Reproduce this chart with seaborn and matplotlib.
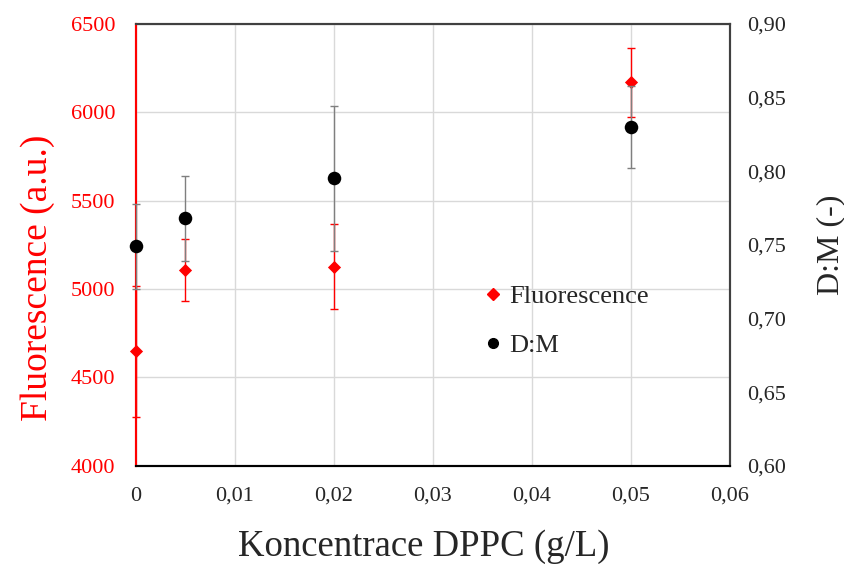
import numpy as np
import pandas as pd
import matplotlib
matplotlib.use("Agg")
import matplotlib.pyplot as plt
import seaborn as sns
from matplotlib.ticker import FuncFormatter, MultipleLocator

# data
koncentrace = [0, 0.005, 0.02, 0.05]
fluorescence = [4647, 5105, 5127, 6170]
fluorescence_err = [372, 175, 242, 195]
dm = [0.749, 0.768, 0.795, 0.830]
dm_err = [0.029, 0.029, 0.049, 0.028]

x_ticks = [0, 0.01, 0.02, 0.03, 0.04, 0.05, 0.06]

sns.set_style("white")
plt.rcParams['font.family'] = ['Liberation Serif', 'DejaVu Serif']

df = pd.DataFrame({"c": koncentrace, "fl": fluorescence, "fl_err": fluorescence_err,
                   "dm": dm, "dm_err": dm_err})

fig = plt.figure(figsize=(8.44, 5.64), dpi=100)
ax = fig.add_axes([0.161, 0.174, 0.704, 0.784])
ax2 = ax.twinx()

# left axis - fluorescence
ax.errorbar(df["c"], df["fl"], yerr=df["fl_err"], fmt="none", ecolor="red",
            elinewidth=1, capsize=3, capthick=1, zorder=3, clip_on=False)
sns.scatterplot(data=df, x="c", y="fl", ax=ax, marker="D", s=45, color="red",
                edgecolor="red", linewidth=0, zorder=4, clip_on=False)

# right axis - D:M
ax2.errorbar(df["c"], df["dm"], yerr=df["dm_err"], fmt="none", ecolor="#7f7f7f",
             elinewidth=1, capsize=3, capthick=1, zorder=3, clip_on=False)
sns.scatterplot(data=df, x="c", y="dm", ax=ax2, marker="o", s=95, color="black",
                edgecolor="black", linewidth=0, zorder=4, clip_on=False)

ax.set_xlim(0, 0.06)
ax.set_ylim(4000, 6500)
ax2.set_ylim(0.60, 0.90)
ax.set_xticks(x_ticks)
ax.yaxis.set_major_locator(MultipleLocator(500))
ax2.yaxis.set_major_locator(MultipleLocator(0.05))

comma = lambda v, p: "0" if v == 0 else ("%g" % round(v, 3)).replace(".", ",")
ax.xaxis.set_major_formatter(FuncFormatter(comma))
ax2.yaxis.set_major_formatter(FuncFormatter(lambda v, p: ("%.2f" % v).replace(".", ",")))

ax.grid(True, color="#d9d9d9", linewidth=1)
ax.set_axisbelow(True)

ax.tick_params(axis="both", length=0, labelsize=16, pad=15)
ax.tick_params(axis="y", labelcolor="red", pad=15)
ax2.tick_params(axis="y", length=0, labelsize=16, pad=12)

ax.set_xlabel("Koncentrace DPPC (g/L)", fontsize=26.5, labelpad=17)
ax.set_ylabel("Fluorescence (a.u.)", fontsize=27, color="red", labelpad=11)
ax2.set_ylabel("D:M (-)", fontsize=23, labelpad=22)
ax.xaxis.label.set_x(0.485)
ax.yaxis.label.set_y(0.425)

for a in (ax, ax2):
    a.spines["left"].set_color("red")
    a.spines["top"].set_color("#404040")
    a.spines["right"].set_color("#404040")
    a.spines["bottom"].set_color("black")
    for s in a.spines.values():
        s.set_linewidth(1.5)
        s.set_visible(True)

h1 = plt.Line2D([], [], marker="D", color="red", linestyle="none", markersize=6)
h2 = plt.Line2D([], [], marker="o", color="black", linestyle="none", markersize=7)
ax2.legend([h1, h2], ["Fluorescence", "D:M"], loc="center left",
           bbox_to_anchor=(0.584, 0.328), frameon=False, fontsize=19,
           borderaxespad=0, borderpad=0,
           handletextpad=0.2, labelspacing=0.95, handlelength=0.8)

fig.savefig("out.png", dpi=100)
